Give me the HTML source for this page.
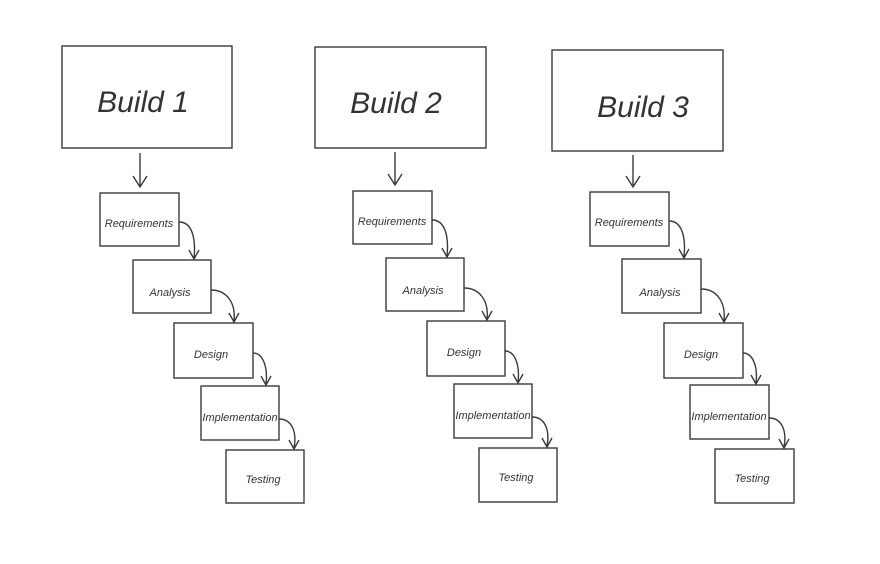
<!DOCTYPE html>
<html><head><style>
html,body{margin:0;padding:0;background:#fff}
svg{display:block}
text{font-family:"Liberation Sans",sans-serif;fill:#333}
</style></head><body>
<svg width="880" height="564" viewBox="0 0 880 564">
<g fill="none" stroke="#3a3a3a" stroke-width="1.4">
<!-- col1 -->
<rect x="62" y="46" width="170" height="102"/>
<rect x="100" y="193" width="79" height="53"/>
<rect x="133" y="260" width="78" height="53"/>
<rect x="174" y="323" width="79" height="55"/>
<rect x="201" y="386" width="78" height="54"/>
<rect x="226" y="450" width="78" height="53"/>
<path d="M140 153 V186 M133 176 L140 187 L147 176"/>
<path d="M179 222 C192 222 196 238 194 258 M189 250 L194 259 L199 250"/>
<path d="M211 290 C226 290 236 302 234 321 M229 313 L234 322 L239 313"/>
<path d="M253 353 C263 353 268 367 266 384 M261 376 L266 385 L271 376"/>
<path d="M279 419 C292 419 297 432 294 448 M289 440 L294 449 L299 440"/>
<!-- col2 -->
<rect x="315" y="47" width="171" height="101"/>
<rect x="353" y="191" width="79" height="53"/>
<rect x="386" y="258" width="78" height="53"/>
<rect x="427" y="321" width="78" height="55"/>
<rect x="454" y="384" width="78" height="54"/>
<rect x="479" y="448" width="78" height="54"/>
<path d="M395 152 V184 M388 174 L395 185 L402 174"/>
<path d="M432 220 C445 220 449 236 447 256 M442 248 L447 257 L452 248"/>
<path d="M464 288 C479 288 489 300 487 319 M482 311 L487 320 L492 311"/>
<path d="M505 351 C515 351 520 365 518 382 M513 374 L518 383 L523 374"/>
<path d="M532 417 C545 417 550 430 547 446 M542 438 L547 447 L552 438"/>
<!-- col3 -->
<rect x="552" y="50" width="171" height="101"/>
<rect x="590" y="192" width="79" height="54"/>
<rect x="622" y="259" width="79" height="54"/>
<rect x="664" y="323" width="79" height="55"/>
<rect x="690" y="385" width="79" height="54"/>
<rect x="715" y="449" width="79" height="54"/>
<path d="M633 155 V185 M626 176 L633 187 L640 176"/>
<path d="M669 221 C682 221 686 237 684 257 M679 249 L684 258 L689 249"/>
<path d="M701 289 C716 289 726 301 724 321 M719 313 L724 322 L729 313"/>
<path d="M743 353 C753 353 758 367 756 383 M751 375 L756 384 L761 375"/>
<path d="M769 418 C782 418 787 431 784 447 M779 439 L784 448 L789 439"/>
</g>
<g font-size="30" text-anchor="middle" style="font-style:italic">
<text x="143" y="112">Build 1</text>
<text x="396" y="113">Build 2</text>
<text x="643" y="117">Build 3</text>
</g>
<g font-size="11" text-anchor="middle" style="font-style:italic">
<text x="139" y="227">Requirements</text>
<text x="170" y="296">Analysis</text>
<text x="211" y="358">Design</text>
<text x="240" y="421">Implementation</text>
<text x="263" y="483">Testing</text>
<text x="392" y="225">Requirements</text>
<text x="423" y="294">Analysis</text>
<text x="464" y="356">Design</text>
<text x="493" y="419">Implementation</text>
<text x="516" y="481">Testing</text>
<text x="629" y="226">Requirements</text>
<text x="660" y="296">Analysis</text>
<text x="701" y="358">Design</text>
<text x="729" y="420">Implementation</text>
<text x="752" y="482">Testing</text>
</g>
</svg>
</body></html>
